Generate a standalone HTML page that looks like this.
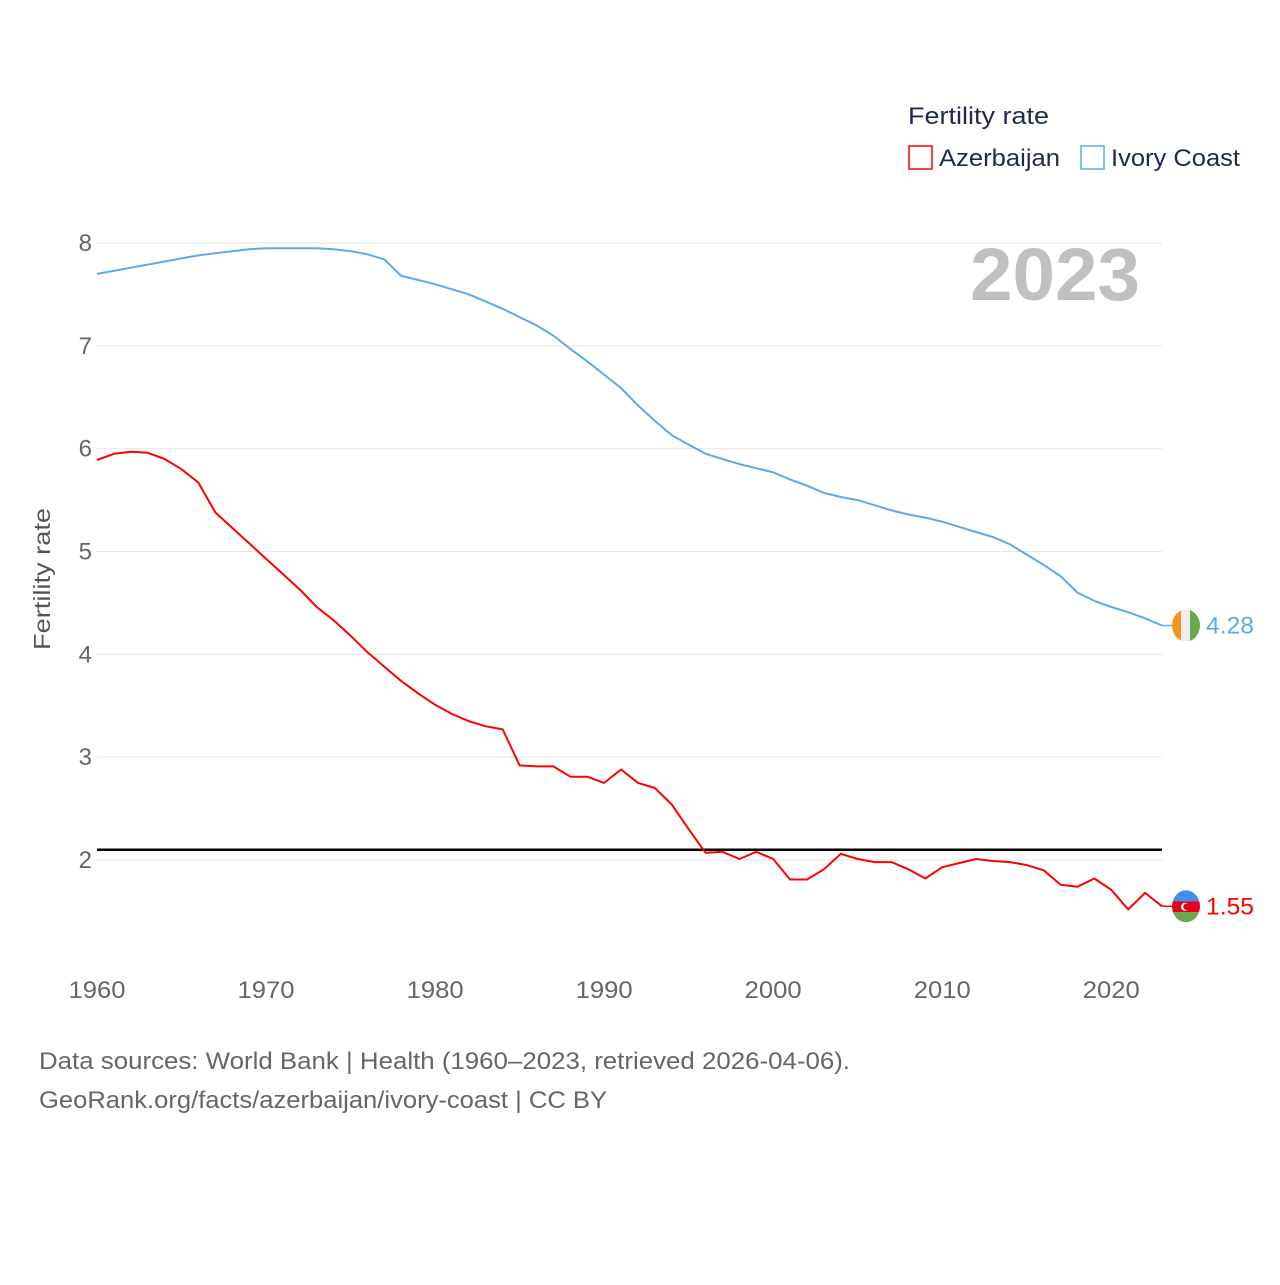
<!DOCTYPE html>
<html><head><meta charset="utf-8"><style>
body{margin:0;background:#fff;}
svg text{font-family:"Liberation Sans",sans-serif;}
</style></head><body>
<svg id="chart" width="1280" height="1280" viewBox="0 0 1280 1280" xmlns="http://www.w3.org/2000/svg">
<g id="grid"></g>
<g id="yticks"></g>
<g id="xticks"></g>
<text transform="translate(50,579) rotate(-90)" text-anchor="middle" font-size="23" fill="#555" textLength="142" lengthAdjust="spacingAndGlyphs">Fertility rate</text>
<text x="1140" y="300" text-anchor="end" font-size="74" font-weight="bold" fill="#c0c0c0" textLength="170" lengthAdjust="spacingAndGlyphs">2023</text>
<g id="series"></g>
<g>
<text x="908" y="124" font-size="24" fill="#1d2b4a" textLength="141" lengthAdjust="spacingAndGlyphs">Fertility rate</text>
<rect x="909" y="146" width="23" height="23" fill="none" stroke="#ff0000" stroke-width="1.5"/>
<text x="939" y="166" font-size="24" fill="#1d2b4a" textLength="121" lengthAdjust="spacingAndGlyphs">Azerbaijan</text>
<rect x="1081" y="146" width="23" height="23" fill="none" stroke="#5da9ec" stroke-width="1.5"/>
<text x="1111" y="166" font-size="24" fill="#1d2b4a" textLength="129" lengthAdjust="spacingAndGlyphs">Ivory Coast</text>
</g>
<text x="39" y="1069" font-size="24" fill="#666" textLength="811" lengthAdjust="spacingAndGlyphs">Data sources: World Bank | Health (1960–2023, retrieved 2026-04-06).</text>
<text x="39" y="1108" font-size="24" fill="#666" textLength="568" lengthAdjust="spacingAndGlyphs">GeoRank.org/facts/azerbaijan/ivory-coast | CC BY</text>
</svg>
<script>
const years = Array.from({length:64},(_,i)=>1960+i);
const azerbaijan = [5.89,5.95,5.97,5.96,5.90,5.80,5.67,5.38,5.23,5.08,4.93,4.78,4.63,4.46,4.33,4.18,4.02,3.88,3.74,3.62,3.51,3.42,3.35,3.30,3.27,2.92,2.91,2.91,2.81,2.81,2.75,2.88,2.75,2.70,2.54,2.30,2.07,2.08,2.01,2.08,2.01,1.81,1.81,1.91,2.06,2.01,1.98,1.98,1.91,1.82,1.93,1.97,2.01,1.99,1.98,1.95,1.90,1.76,1.74,1.82,1.71,1.52,1.68,1.55];
const ivoryCoast = [7.70,7.73,7.76,7.79,7.82,7.85,7.88,7.90,7.92,7.94,7.95,7.95,7.95,7.95,7.94,7.92,7.89,7.84,7.68,7.64,7.60,7.55,7.50,7.43,7.36,7.28,7.20,7.10,6.97,6.85,6.72,6.59,6.42,6.27,6.13,6.04,5.95,5.90,5.85,5.81,5.77,5.70,5.64,5.57,5.53,5.50,5.45,5.40,5.36,5.33,5.29,5.24,5.19,5.14,5.07,4.97,4.87,4.76,4.60,4.52,4.46,4.41,4.35,4.28];
const yTicks = [2,3,4,5,6,7,8];
const xTicks = [1960,1970,1980,1990,2000,2010,2020];
const replacement = 2.1;
const NS="http://www.w3.org/2000/svg";
const X0=97,X1=1162;
const x=y=>X0+(y-1960)*(X1-X0)/63;
const y=v=>860-(v-2)*102.83;
function mk(tag,attrs,parent,txt){const e=document.createElementNS(NS,tag);for(const k in attrs)e.setAttribute(k,attrs[k]);if(txt!==undefined)e.textContent=txt;document.getElementById(parent).appendChild(e);return e;}
yTicks.forEach(t=>{
  const l=mk('line',{x1:X0,x2:X1,y1:y(t),y2:y(t),stroke:'#e6e6e6','stroke-width':1},'grid');
  
  
  const tx=mk('text',{x:92,y:y(t)+8,'text-anchor':'end','font-size':24,fill:'#666'},'yticks',String(t));
  
  
});
xTicks.forEach(t=>{
  const tx=mk('text',{x:x(t),y:998,'text-anchor':'middle','font-size':24,fill:'#666',textLength:57,lengthAdjust:'spacingAndGlyphs'},'xticks',String(t));
  
  
});
const rl=mk('line',{x1:X0,x2:X1,y1:y(replacement),y2:y(replacement),stroke:'#000','stroke-width':2.5},'series');


function series(vals,color,name){
  const d=vals.map((v,i)=>(i?'L':'M')+x(years[i]).toFixed(1)+','+y(v).toFixed(1)).join('');
  const p=mk('path',{d:d,fill:'none',stroke:color,'stroke-width':2,'stroke-linejoin':'round'},'series');
  
  
  const last=vals[vals.length-1],ly=y(last),cx=1186;
  mk('line',{x1:X1,x2:cx-14,y1:ly,y2:ly,stroke:color,'stroke-width':1.5},'series');
  const t=mk('text',{x:1206,y:ly+8,'font-size':24,fill:color,textLength:48,lengthAdjust:'spacingAndGlyphs'},'series',last.toFixed(2));
  
  
  return ly;
}
const lyI=series(ivoryCoast,'#5da9ec','ivory-coast');
const lyA=series(azerbaijan,'#ff0000','azerbaijan');
const fg=mk('g',{},'series');


fg.innerHTML=`<clipPath id="ci"><ellipse cx="1186" cy="${lyI}" rx="14" ry="16"/></clipPath><g clip-path="url(#ci)"><rect x="1172" y="${lyI-16}" width="10" height="32" fill="#f7931e"/><rect x="1181" y="${lyI-16}" width="10" height="32" fill="#eee"/><rect x="1190" y="${lyI-16}" width="10" height="32" fill="#6aa84f"/></g>`;
const fa=mk('g',{},'series');


fa.innerHTML=`<clipPath id="ca"><ellipse cx="1186" cy="${lyA}" rx="14" ry="16"/></clipPath><g clip-path="url(#ca)"><rect x="1172" y="${lyA-16}" width="28" height="11" fill="#3f8ef0"/><rect x="1172" y="${lyA-5}" width="28" height="11" fill="#e3001b"/><rect x="1172" y="${lyA+6}" width="28" height="11" fill="#6aa84f"/><circle cx="1185" cy="${lyA+0.5}" r="4" fill="#fff"/><circle cx="1186.5" cy="${lyA+0.5}" r="3.2" fill="#e3001b"/></g>`;
</script>
</body></html>
